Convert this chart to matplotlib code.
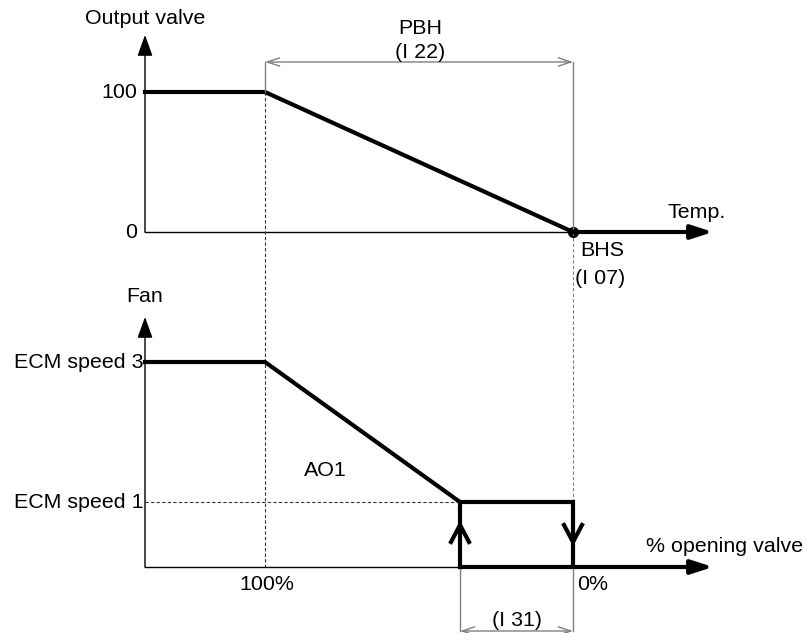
import matplotlib.pyplot as plt

plt.rcParams['font.family'] = ['Liberation Sans', 'DejaVu Sans']

# diagram geometry (pixel-like units, y grows downward)
x_origin = 145
x_pb_start = 265      # 100 %
x_bhs = 573           # BHS / 0 %
x_on = 460            # fan switch-on point
x_end = 713

y_top_axis = 232
y_top_100 = 92
y_top_tip = 35
y_bot_axis = 567
y_speed3 = 362
y_speed1 = 502
y_bot_tip = 317
y_dim_pbh = 62
y_dim_i31 = 631

valve_x = [x_origin, x_pb_start, x_bhs]
valve_y = [y_top_100, y_top_100, y_top_axis]

fan_x = [x_origin, x_pb_start, x_on]
fan_y = [y_speed3, y_speed3, y_speed1]

hyst_x = [x_on, x_on, x_bhs, x_bhs]
hyst_y = [y_bot_axis, y_speed1, y_speed1, y_bot_axis]

FS = 15.4
GREY = '#808080'
THICK = 3.0
THIN = 1.0

fig = plt.figure(figsize=(8.07, 6.33), dpi=100)
ax = fig.add_axes([0, 0, 1, 1])
ax.set_xlim(0, 807)
ax.set_ylim(633, 0)
ax.axis('off')


def axis_arrow(x0, y0, x1, y1, lw, hl, hw):
    ax.annotate('', xy=(x1, y1), xytext=(x0, y0),
                arrowprops=dict(arrowstyle=f'-|>,head_length={hl},head_width={hw}',
                                lw=lw, color='black', mutation_scale=10,
                                shrinkA=0, shrinkB=0))


def dim_arrow(x0, x1, y):
    ax.annotate('', xy=(x1, y), xytext=(x0, y),
                arrowprops=dict(arrowstyle='<->,head_length=0.9,head_width=0.3',
                                lw=1.0, color=GREY, mutation_scale=10,
                                shrinkA=0, shrinkB=0))


# ---- top panel ----
axis_arrow(x_origin, y_top_axis, x_origin, y_top_tip, THIN, 1.3, 0.47)
ax.plot([x_origin, x_bhs], [y_top_axis, y_top_axis], color='black', lw=THIN)
axis_arrow(x_bhs, y_top_axis, x_end, y_top_axis, THICK, 1.3, 0.42)
ax.plot(valve_x, valve_y, color='black', lw=THICK, solid_joinstyle='miter')
ax.plot([x_bhs], [y_top_axis], 'o', color='black', ms=7)

# PBH dimension
ax.plot([x_bhs, x_bhs], [y_dim_pbh, y_top_axis], color=GREY, lw=THIN)
ax.plot([x_pb_start, x_pb_start], [y_dim_pbh, y_top_100], color=GREY, lw=THIN)
dim_arrow(x_pb_start, x_bhs, y_dim_pbh)

# dashed guides
ax.plot([x_pb_start, x_pb_start], [y_top_100, y_bot_axis], color='#333333',
        lw=0.8, ls=(0, (3, 2)))
ax.plot([x_bhs, x_bhs], [y_top_axis, y_speed1], color=GREY, lw=0.8, ls=(0, (3, 2)))
ax.plot([x_origin, x_on], [y_speed1, y_speed1], color='#333333', lw=0.8, ls=(0, (3, 2)))

ax.text(x_origin, 18, 'Output valve', ha='center', va='center', fontsize=FS)
ax.text(137, y_top_100, '100', ha='right', va='center', fontsize=FS)
ax.text(137, y_top_axis, '0', ha='right', va='center', fontsize=FS)
ax.text(420, 28, 'PBH', ha='center', va='center', fontsize=FS)
ax.text(420, 52, '(I 22)', ha='center', va='center', fontsize=FS)
ax.text(668, 212, 'Temp.', ha='left', va='center', fontsize=FS)
ax.text(580, 250, 'BHS', ha='left', va='center', fontsize=FS)
ax.text(575, 278, '(I 07)', ha='left', va='center', fontsize=FS)

# ---- bottom panel ----
axis_arrow(x_origin, y_bot_axis, x_origin, y_bot_tip, THIN, 1.3, 0.47)
ax.plot([x_origin, x_on], [y_bot_axis, y_bot_axis], color='black', lw=THIN)
axis_arrow(x_on, y_bot_axis, x_end, y_bot_axis, THICK, 1.3, 0.42)
ax.plot(fan_x, fan_y, color='black', lw=THICK, solid_joinstyle='miter')
ax.plot(hyst_x, hyst_y, color='black', lw=THICK, solid_joinstyle='miter')

# hysteresis direction chevrons
ax.plot([x_on - 9, x_on, x_on + 9], [542, 525, 542], color='black', lw=THICK)
ax.plot([x_bhs - 9, x_bhs, x_bhs + 9], [525, 542, 525], color='black', lw=THICK)

# I31 dimension
ax.plot([x_on, x_on], [y_bot_axis, y_dim_i31], color=GREY, lw=THIN)
ax.plot([x_bhs, x_bhs], [y_bot_axis, y_dim_i31], color=GREY, lw=THIN)
dim_arrow(x_on, x_bhs, y_dim_i31)

ax.text(x_origin, 297, 'Fan', ha='center', va='center', fontsize=FS)
ax.text(143, y_speed3, 'ECM speed 3', ha='right', va='center', fontsize=FS)
ax.text(143, y_speed1, 'ECM speed 1', ha='right', va='center', fontsize=FS)
ax.text(325, 470, 'AO1', ha='center', va='center', fontsize=FS)
ax.text(646, 546, '% opening valve', ha='left', va='center', fontsize=FS)
ax.text(267, 585, '100%', ha='center', va='center', fontsize=FS)
ax.text(577, 585, '0%', ha='left', va='center', fontsize=FS)
ax.text(517, 621, '(I 31)', ha='center', va='center', fontsize=FS)

fig.savefig('out.png', dpi=100)
